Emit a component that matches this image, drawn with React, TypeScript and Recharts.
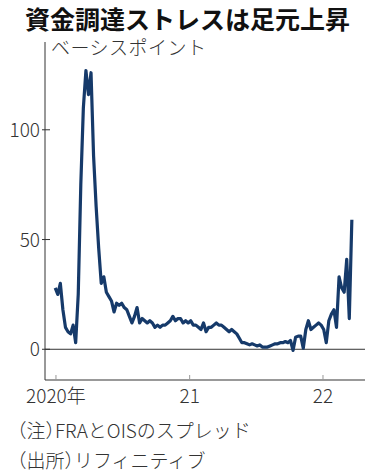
import { LineChart, Line, XAxis, YAxis, ReferenceLine } from 'recharts'

const DAY = 86400000
const START = Date.UTC(2019, 11, 30) // first weekly observation

// FRA-OIS spread, basis points, weekly readings
const spread = [
  28, 25, 30, 18, 10, 8, 7, 11, 3, 25,
  75, 110, 127, 116, 126, 88, 65, 46, 30, 33,
  26, 24, 22, 17, 21, 20, 21, 19, 18, 15,
  12, 15, 19, 12, 14, 13, 12, 13, 12, 10,
  11, 10, 11, 11, 12, 13, 15, 13, 14, 14,
  12, 13, 12, 13, 11, 11, 10, 9, 12, 8,
  10, 10, 11, 12, 11, 11, 10, 9, 8, 9,
  8, 7, 5, 3, 3, 2.5, 2, 2.5, 2, 1.5,
  2, 1, 1, 1, 1.5, 2, 2.5, 2.5, 3, 3,
  3.5, 3, 4, -0.5, 5.5, 6, 6, 0.5, 9, 13,
  9, 10, 11, 12, 11, 9, 3, 13, 16, 18,
  10, 33, 28, 26, 41, 14, 59,
]

const yearTicks = [Date.UTC(2020, 0, 1), Date.UTC(2021, 0, 1), Date.UTC(2022, 0, 1)]
const yearLabels = ['2020年', '21', '22']
const valueTicks = [0, 50, 100]

const data = spread.map((v, i) => ({ t: START + i * 7 * DAY, v }))

const FONT = '"Noto Sans CJK JP", "Noto Sans", sans-serif'

const YTick = ({ x, y, payload }: any) => (
  <g>
    <line x1={x - 3} x2={x + 5} y1={y} y2={y} stroke="#333" strokeWidth={1} />
    <text x={x - 5} y={y} dy={7} textAnchor="end" fontSize={19} fontFamily={FONT} fill="#333" fontWeight={300}>
      {payload.value}
    </text>
  </g>
)

const XTick = ({ x, y, payload }: any) => {
  const i = yearTicks.indexOf(payload.value)
  return (
    <g>
      <line x1={x} x2={x} y1={y - 5} y2={y} stroke="#999" strokeWidth={1} />
      <text x={x} y={y + 23} textAnchor="middle" fontSize={19} fontFamily={FONT} fill="#333" fontWeight={300}>
        {yearLabels[i]}
      </text>
    </g>
  )
}

const note = { position: 'absolute' as const, left: 17, fontSize: 19, fontWeight: 300, lineHeight: 1, whiteSpace: 'nowrap' as const, color: '#333', fontFeatureSettings: '"halt"' }

export default function App() {
  return (
    <div style={{ position: 'absolute', left: 0, top: 0, width: 375, height: 476, background: '#fff', fontFamily: FONT, color: '#222' }}>
      <div style={{ position: 'absolute', left: 25, top: 6, fontSize: 25, fontWeight: 700, lineHeight: 1, whiteSpace: 'nowrap', color: '#111' }}>
        資金調達ストレスは足元上昇
      </div>
      <div style={{ position: 'absolute', left: 51, top: 37, fontSize: 19, fontWeight: 300, lineHeight: 1, letterSpacing: 0.5, whiteSpace: 'nowrap', color: '#333' }}>
        ベーシスポイント
      </div>
      <LineChart width={375} height={476} data={data} margin={{ top: 42, right: 10, bottom: 66, left: 0 }}>
        <XAxis
          dataKey="t"
          type="number"
          domain={[Date.UTC(2019, 11, 2), Date.UTC(2022, 3, 26)]}
          allowDataOverflow
          ticks={yearTicks}
          tick={<XTick />}
          tickSize={0}
          tickMargin={0}
          tickLine={false}
          axisLine={{ stroke: '#999', strokeWidth: 2 }}
          height={30}
        />
        <YAxis
          type="number"
          domain={[-14, 140]}
          allowDataOverflow
          ticks={valueTicks}
          tick={<YTick />}
          tickSize={0}
          tickMargin={0}
          tickLine={false}
          axisLine={{ stroke: '#333', strokeWidth: 1 }}
          width={45}
        />
        <ReferenceLine y={0} stroke="#333" strokeWidth={1} />
        <Line
          type="linear"
          dataKey="v"
          stroke="#163a6a"
          strokeWidth={3.2}
          strokeLinejoin="round"
          dot={false}
          isAnimationActive={false}
        />
      </LineChart>
      <div style={{ ...note, top: 420 }}>（注）FRAとOISのスプレッド</div>
      <div style={{ ...note, top: 450 }}>（出所）リフィニティブ</div>
    </div>
  )
}
